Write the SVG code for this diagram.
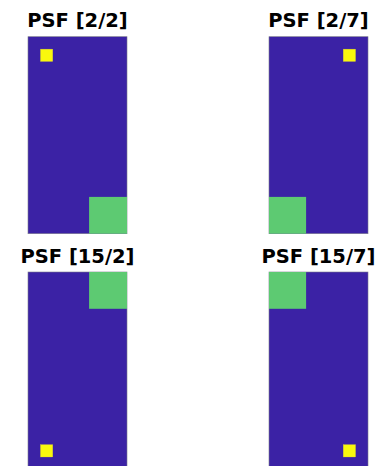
<svg xmlns="http://www.w3.org/2000/svg" width="377" height="466" viewBox="0 0 377 466">
<style>
.t{font-family:"DejaVu Sans",sans-serif;font-weight:bold;font-size:19.5px;fill:#000;text-anchor:middle}
.bg{fill:#3b22a5;stroke:#7a7a8a;stroke-width:0.6}
.g{fill:#5dca72}
.y{fill:#f9f80d;stroke:#c8b84a;stroke-width:0.3}
</style>
<rect width="377" height="466" fill="#fff"/>
<g id="psf-2-2">
<text class="t" x="77.5" y="27">PSF [2/2]</text>
<rect class="bg" x="28" y="36.7" width="99" height="197"/>
<rect class="g" x="89.1" y="196.9" width="37.9" height="36.8"/>
<rect class="y" x="40.4" y="49.1" width="12.4" height="12.4"/>
</g>
<g id="psf-2-7">
<text class="t" x="318.5" y="27">PSF [2/7]</text>
<rect class="bg" x="269" y="36.7" width="99" height="197"/>
<rect class="g" x="269" y="196.9" width="37.1" height="36.8"/>
<rect class="y" x="343.2" y="49.1" width="12.4" height="12.4"/>
</g>
<g id="psf-15-2">
<text class="t" x="77.5" y="263">PSF [15/2]</text>
<rect class="bg" x="28" y="272" width="99" height="197"/>
<rect class="g" x="89.1" y="272" width="37.9" height="36.8"/>
<rect class="y" x="40.4" y="444.6" width="12.4" height="12.4"/>
</g>
<g id="psf-15-7">
<text class="t" x="318.5" y="263">PSF [15/7]</text>
<rect class="bg" x="269" y="272" width="99" height="197"/>
<rect class="g" x="269" y="272" width="37.1" height="36.8"/>
<rect class="y" x="343.2" y="444.6" width="12.4" height="12.4"/>
</g>
<g id="connectors"/>
</svg>
